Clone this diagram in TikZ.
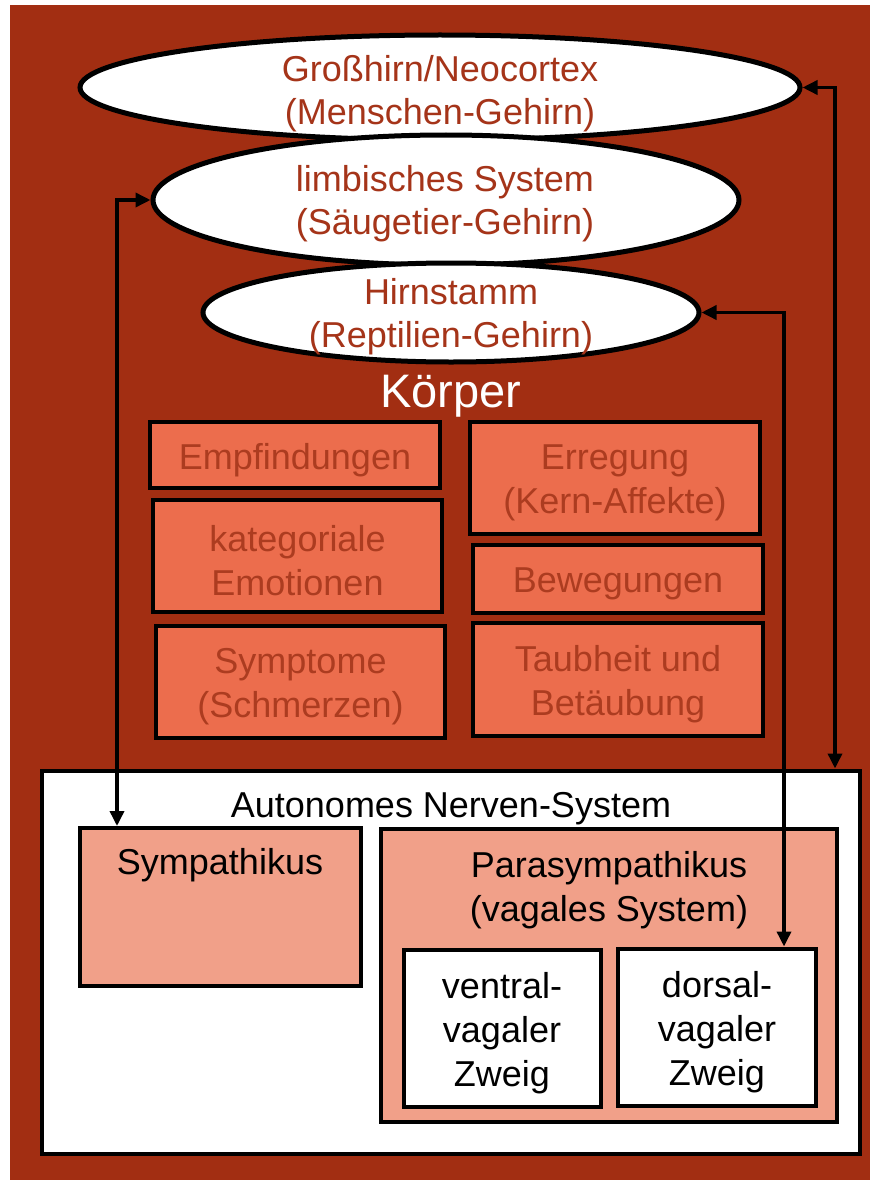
\documentclass[tikz,border=0pt]{standalone}
\usepackage{fontspec}
\setmainfont{Liberation Sans}
\usetikzlibrary{shapes.geometric,arrows.meta}
\definecolor{bgred}{RGB}{162,46,18}
\definecolor{braintxt}{RGB}{165,52,25}
\definecolor{bodyfill}{RGB}{236,109,77}
\definecolor{bodytxt}{RGB}{172,60,32}
\definecolor{ansfill}{RGB}{241,160,137}
\begin{document}
\begin{tikzpicture}[x=1pt,y=-1pt,
  txt/.style={align=center,inner sep=0pt,font=\fontsize{36}{44}\selectfont},
  brain/.style={ellipse,draw=black,line width=5pt,fill=white,inner sep=0pt},
  braintext/.style={txt,text=braintxt,font=\fontsize{36}{43}\selectfont},
  bodybox/.style={rectangle,draw=black,line width=4pt,fill=bodyfill,inner sep=0pt,
    minimum width=290pt},
  bodytext/.style={txt,text=bodytxt},
  frame/.style={rectangle,draw=black,line width=4pt,inner sep=0pt},
  link/.style={line width=3.5pt,
    {Triangle[length=15pt,width=14pt]}-{Triangle[length=15pt,width=14pt]}}]
\useasboundingbox (0,0) rectangle (870,1180);
\fill[white] (0,0) rectangle (870,1180);
\fill[bgred] (10,5) rectangle (870,1180);

% the three brain layers
\node[brain,minimum width=720pt,minimum height=105pt] (e1) at (440,87.5) {};
\node[brain,minimum width=586pt,minimum height=130pt] (e2) at (446,200) {};
\node[brain,minimum width=496pt,minimum height=99pt] (e3) at (451,312.5) {};
\node[braintext] (e1t) at (440,94) {Großhirn/Neocortex\\(Menschen-Gehirn)};
\node[braintext] (e2t) at (445,204) {limbisches System\\(Säugetier-Gehirn)};
\node[braintext] (e3t) at (451,317) {Hirnstamm\\(Reptilien-Gehirn)};

% body level
\node[text=white,inner sep=0pt,font=\fontsize{47}{50}\selectfont] (body) at (451,396) {Körper};
\node[bodybox,minimum height=66pt] (emp) at (295,455) {};
\node[bodybox,minimum height=112pt,minimum width=289pt] (kat) at (297.5,556) {};
\node[bodybox,minimum height=112pt,minimum width=289pt] (sym) at (300.5,682) {};
\node[bodybox,minimum height=112pt] (err) at (615,478) {};
\node[bodybox,minimum height=68pt] (bew) at (618,579) {};
\node[bodybox,minimum height=113pt] (tau) at (618,679.5) {};
\node[bodytext] (empt) at ([yshift=-5pt]emp.center) {Empfindungen};
\node[bodytext] (katt) at ([yshift=-5pt]kat.center) {kategoriale\\Emotionen};
\node[bodytext] (symt) at ([yshift=-5pt]sym.center) {Symptome\\(Schmerzen)};
\node[bodytext] (errt) at ([yshift=-5pt]err.center) {Erregung\\(Kern-Affekte)};
\node[bodytext] (bewt) at ([yshift=-5pt]bew.center) {Bewegungen};
\node[bodytext] (taut) at ([yshift=-5pt]tau.center) {Taubheit und\\Betäubung};

% autonomic nervous system
\node[frame,fill=white,minimum width=818pt,minimum height=383pt] (ans) at (451,962) {};
\node[txt] (anst) at (451,809) {Autonomes Nerven-System};
\node[frame,fill=ansfill,minimum width=281pt,minimum height=158pt] (symp) at (220,907) {};
\node[txt] (sympt) at (220,865) {Sympathikus};
\node[frame,fill=ansfill,minimum width=456pt,minimum height=293pt] (para) at (609,975) {};
\node[txt] (parat) at (609,890) {Parasympathikus\\(vagales System)};
\node[frame,fill=white,minimum width=197pt,minimum height=157pt] (ven) at (502,1028) {};
\node[txt] (vent) at (502,1033) {ventral-\\vagaler\\Zweig};
\node[frame,fill=white,minimum width=198pt,minimum height=157pt] (dor) at (717,1027) {};
\node[txt] (dort) at (717,1032) {dorsal-\\vagaler\\Zweig};

% connections between brain layers and the nervous system
\coordinate (lx) at (117,0);
\coordinate (mx) at (784,0);
\coordinate (rx) at (835,0);
\draw[link] (e2.west) -| (lx |- symp.north);
\draw[link] (e3.east) -| (mx |- dor.north);
\draw[link] (e1.east) -| (rx |- ans.north);
\end{tikzpicture}
\end{document}
